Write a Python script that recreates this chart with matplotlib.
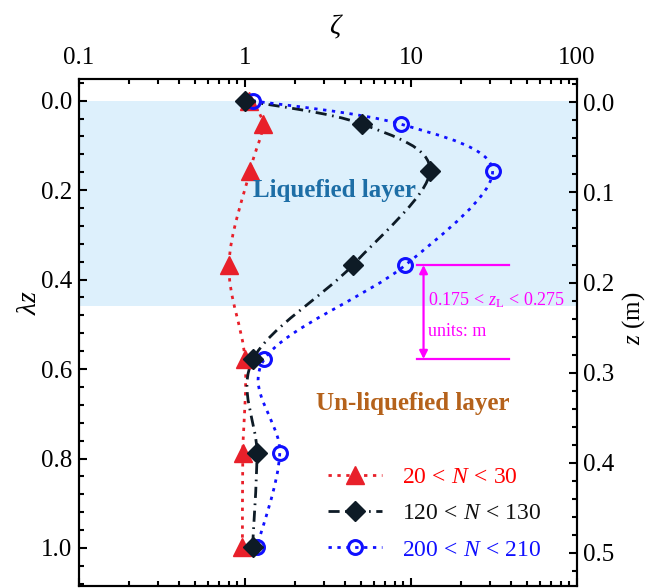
import numpy as np
import matplotlib
matplotlib.use("Agg")
import matplotlib.pyplot as plt
from matplotlib.path import Path
from matplotlib.patches import PathPatch
from matplotlib.lines import Line2D
from matplotlib.ticker import MultipleLocator, FixedLocator, LogLocator, NullFormatter, FixedFormatter

plt.rcParams["font.family"] = ["Liberation Serif", "Noto Sans CJK SC"]
plt.rcParams["mathtext.fontset"] = "custom"
plt.rcParams["mathtext.rm"] = "Liberation Serif"
plt.rcParams["mathtext.it"] = "Liberation Serif:italic"

# normalised depth of the measuring points
depth = [0.0, 0.0525, 0.1575, 0.3675, 0.5775, 0.7875, 0.9975]
# zeta for three ranges of loading cycles
zeta_n20 = [1.05, 1.28, 1.07, 0.80, 1.00, 0.97, 0.965]
zeta_n120 = [1.0, 5.1, 13.0, 4.46, 1.12, 1.18, 1.11]
zeta_n200 = [1.11, 8.7, 31.0, 9.25, 1.31, 1.62, 1.18]
series_labels = [r"$\mathrm{20}\,<\,N\,<\,\mathrm{30}$",
                 r"$\mathrm{120}\,<\,N\,<\,\mathrm{130}$",
                 r"$\mathrm{200}\,<\,N\,<\,\mathrm{210}$"]
x_ticks = [0.1, 1, 10, 100]
x_tick_labels = ["0.1", "1", "10", "100"]
liquefied_bottom = 0.46

RED = "#e8202a"
RED_TXT = "#ff0000"
BLACK = "#0e1b26"
BLUE = "#1010ff"
MAGENTA = "#ff00ff"


def smooth_path(xs, ys):
    """Catmull-Rom curve through the points, in log-x space."""
    u = np.log10(np.asarray(xs, float))
    v = np.asarray(ys, float)
    n = len(u)
    verts = [(u[0], v[0])]
    codes = [Path.MOVETO]
    for i in range(n - 1):
        i0, i3 = max(i - 1, 0), min(i + 2, n - 1)
        c1 = (u[i] + (u[i + 1] - u[i0]) / 6, v[i] + (v[i + 1] - v[i0]) / 6)
        c2 = (u[i + 1] - (u[i3] - u[i]) / 6, v[i + 1] - (v[i3] - v[i]) / 6)
        verts += [c1, c2, (u[i + 1], v[i + 1])]
        codes += [Path.CURVE4] * 3
    return Path([(10 ** a, b) for a, b in verts], codes)


fig = plt.figure(figsize=(6.48, 5.88), dpi=100)
ax = fig.add_axes([79 / 648, 2 / 588, 498 / 648, 507 / 588])
ax.set_xscale("log")
ax.set_xlim(0.1, 100)
ax.set_ylim(1.085, -0.0485)

ax.axhspan(0.0, liquefied_bottom, color="#ddf0fc", zorder=0, lw=0)

styles = [
    dict(data=zeta_n20, color=RED, ls=(0, (1.2, 2.0)), marker="^", ms=13, mfc=RED, mec=RED,
         txt=RED_TXT, z=6),
    dict(data=zeta_n120, color=BLACK, ls=(0, (4, 2, 0.6, 2)), marker="D", ms=10, mfc=BLACK,
         mec=BLACK, txt="#111111", z=8),
    dict(data=zeta_n200, color=BLUE, ls=(0, (1.2, 2.0)), marker="o", ms=10, mfc="none", mec=BLUE,
         txt=BLUE, z=7),
]

handles = []
for k, s in enumerate(styles):
    patch = PathPatch(smooth_path(s["data"], depth), fill=False, edgecolor=s["color"],
                      lw=2.0, linestyle=s["ls"], transform=ax.transData, zorder=3 + k)
    ax.add_patch(patch)
    mew = 2.2 if s["mfc"] == "none" else 1.0
    ax.plot(s["data"], depth, ls="none", marker=s["marker"], ms=s["ms"], mfc=s["mfc"],
            mec=s["mec"], mew=mew, zorder=s["z"])
    handles.append(Line2D([], [], color=s["color"], lw=2.0, ls=s["ls"], marker=s["marker"],
                          ms=s["ms"], mfc=s["mfc"], mec=s["mec"], mew=mew))

leg = ax.legend(handles, series_labels, loc="lower left", bbox_to_anchor=(0.5, 0.05),
                frameon=False, fontsize=17, handlelength=2.3, handletextpad=0.85,
                labelspacing=0.62, borderpad=0, borderaxespad=0)
for t, s in zip(leg.get_texts(), styles):
    t.set_color(s["txt"])

# layer labels
ax.text(3.46, 0.20, "Liquefied layer", color="#1d6ea6", fontsize=18, fontweight="bold",
        ha="center", va="center", zorder=10)
ax.text(10.3, 0.676, "Un-liquefied layer", color="#b5621b", fontsize=18, fontweight="bold",
        ha="center", va="center", zorder=10)

# liquefaction depth range marker
ax.plot([10.8, 39.0], [depth[3], depth[3]], color=MAGENTA, lw=1.6, zorder=9)
ax.plot([10.8, 39.0], [depth[4], depth[4]], color=MAGENTA, lw=1.6, zorder=9)
ax.annotate("", xy=(11.9, depth[3]), xytext=(11.9, depth[4]),
            arrowprops=dict(arrowstyle="<|-|>", color=MAGENTA, lw=1.6, shrinkA=0, shrinkB=0,
                            mutation_scale=12), zorder=9)
ax.text(12.7, 0.4455, r"$\mathrm{0.175}\,<\,z_\mathrm{L}\,<\,\mathrm{0.275}$", color=MAGENTA,
        fontsize=13, ha="left", va="center", zorder=10)
ax.text(12.7, 0.517, "units: m", color=MAGENTA, fontsize=13, ha="left", va="center", zorder=10)

# axes styling
for sp in ax.spines.values():
    sp.set_linewidth(1.5)
ax.xaxis.set_major_locator(FixedLocator(x_ticks))
ax.xaxis.set_major_formatter(FixedFormatter(x_tick_labels))
ax.xaxis.set_minor_locator(LogLocator(base=10, subs=np.arange(2, 10)))
ax.xaxis.set_minor_formatter(NullFormatter())
ax.yaxis.set_major_locator(MultipleLocator(0.2))
ax.yaxis.set_minor_locator(MultipleLocator(0.04))
ax.yaxis.set_major_formatter(plt.FuncFormatter(lambda v, p: f"{v:.1f}"))
ax.tick_params(axis="both", which="both", direction="in", width=1.5)
ax.tick_params(axis="both", which="major", length=6)
ax.tick_params(axis="both", which="minor", length=3.5)
ax.tick_params(axis="x", which="both", top=True, bottom=True, labeltop=True, labelbottom=False,
               labelsize=18, pad=7)
ax.tick_params(axis="y", which="both", left=True, right=False, labelsize=18, pad=5)

ax2 = ax.twinx()
ax2.set_ylim(0.537, -0.026)
ax2.yaxis.set_major_locator(MultipleLocator(0.1))
ax2.yaxis.set_minor_locator(MultipleLocator(0.02))
ax2.yaxis.set_major_formatter(plt.FuncFormatter(lambda v, p: f"{v:.1f}"))
ax2.tick_params(axis="y", which="both", direction="in", width=1.5, labelsize=18, pad=4)
ax2.tick_params(axis="y", which="major", length=6)
ax2.tick_params(axis="y", which="minor", length=3.5)
for sp in ax2.spines.values():
    sp.set_linewidth(1.5)

fig.text(336 / 648, 1 - 27 / 588, r"$\zeta$", fontsize=20, ha="center", va="center")
fig.text(29 / 648, 1 - 302 / 588, r"$\lambda z$", fontsize=20, ha="center", va="center", rotation=90)
fig.text(634 / 648, 1 - 318 / 588, r"$z$ (m)", fontsize=18, ha="center", va="center", rotation=90)

fig.savefig("out.png", dpi=100)
